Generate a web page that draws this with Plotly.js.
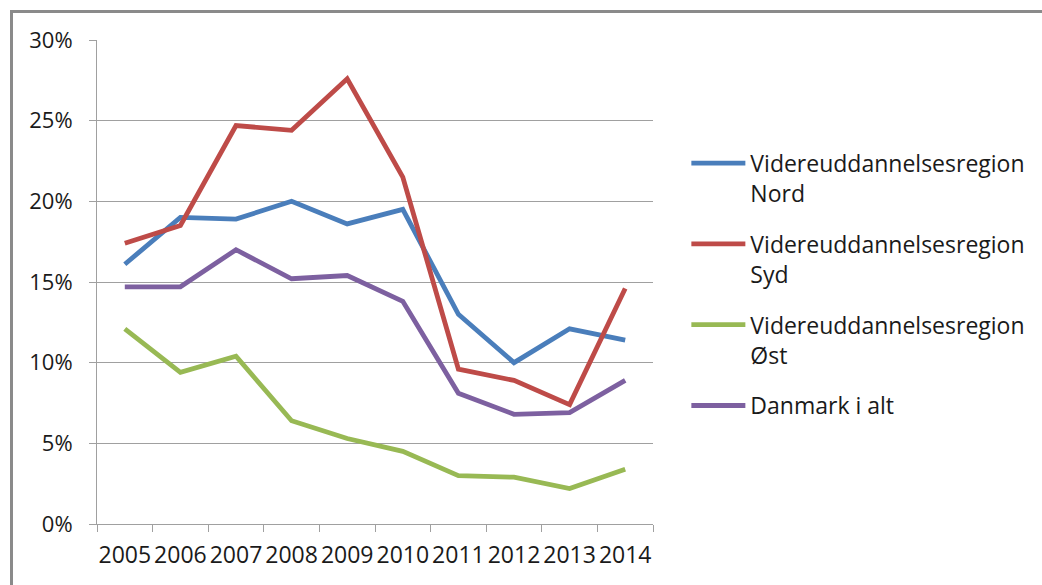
<!DOCTYPE html>
<html><head><meta charset="utf-8">
<script src="https://cdn.plot.ly/plotly-3.0.1.min.js"></script>
<style>
html,body{margin:0;padding:0;background:#fff;overflow:hidden;}
#frame{position:absolute;left:10px;top:10px;width:1100px;height:700px;border-left:3px solid #8a8a8a;border-top:3px solid #8a8a8a;pointer-events:none;z-index:5;}
#chart{position:absolute;left:0;top:0;width:1042px;height:585px;}
</style></head>
<body>
<div id="chart"></div>
<div id="frame"></div>
<script>
const years = ['2005','2006','2007','2008','2009','2010','2011','2012','2013','2014'];
const nord = [0.161,0.190,0.189,0.200,0.186,0.195,0.130,0.100,0.121,0.114];
const syd = [0.174,0.185,0.247,0.244,0.276,0.215,0.096,0.089,0.074,0.146];
const ost = [0.121,0.094,0.104,0.064,0.053,0.045,0.030,0.029,0.022,0.034];
const dk = [0.147,0.147,0.170,0.152,0.154,0.138,0.081,0.068,0.069,0.089];
const names = ['Videreuddannelsesregion<br>Nord','Videreuddannelsesregion<br>Syd','Videreuddannelsesregion<br>Øst','Danmark i alt'];
const colors = ['#4a7ebb','#be4b48','#98b954','#7d60a0'];
const series = [nord, syd, ost, dk];
const traces = series.map((s,i)=>({x:years,y:s,type:'scatter',mode:'lines',name:names[i],legendgroup:'g'+i,line:{color:colors[i],width:4.8}}));
const layout = {
  width:1042,height:585,
  margin:{l:97,r:387,t:40,b:61},
  paper_bgcolor:'#fff',plot_bgcolor:'#fff',
  font:{family:'Open Sans, sans-serif', size:22, color:'#1a1a1a'},
  showlegend:true,
  legend:{x:1.06,y:0.79,xanchor:'left',yanchor:'top',valign:'top',traceorder:'grouped',tracegroupgap:18,font:{family:'Open Sans, sans-serif',size:23,color:'#1a1a1a'},itemwidth:54},
  xaxis:{type:'category',range:[-0.5,9.5],tickangle:0,showgrid:false,showline:true,linecolor:'#a0a0a0',linewidth:1,ticks:'outside',tickson:'boundaries',ticklen:7,tickcolor:'#a0a0a0',tickfont:{family:'Open Sans, sans-serif',size:23,color:'#1a1a1a'},ticklabelstandoff:10,zeroline:false},
  yaxis:{range:[0,0.30],tickvals:[0,0.05,0.10,0.15,0.20,0.25,0.30],ticktext:['0%','5%','10%','15%','20%','25%','30%'],showgrid:true,gridcolor:'#a0a0a0',gridwidth:1,showline:true,linecolor:'#a0a0a0',ticks:'outside',ticklen:7,tickcolor:'#a0a0a0',ticklabelstandoff:12,zeroline:false,tickfont:{family:'Open Sans, sans-serif',size:22,color:'#1a1a1a'}}
};
Plotly.newPlot('chart',traces,layout,{displayModeBar:false,staticPlot:true});
</script>
</body></html>
